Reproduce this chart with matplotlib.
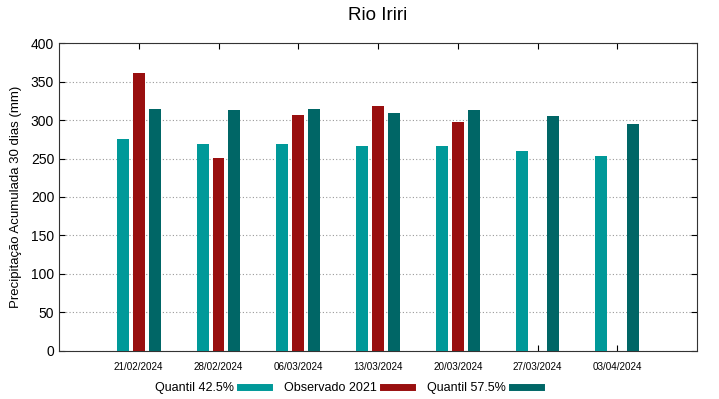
import numpy as np
import matplotlib
matplotlib.use("Agg")
import matplotlib.pyplot as plt
from matplotlib.lines import Line2D

plt.rcParams['font.family'] = ['Liberation Sans', 'DejaVu Sans']

dates = ["21/02/2024", "28/02/2024", "06/03/2024", "13/03/2024",
         "20/03/2024", "27/03/2024", "03/04/2024"]
quantil_425 = [275, 269, 269, 266, 266, 260, 254]
observado = [361, 251, 307, 318, 298, np.nan, np.nan]
quantil_575 = [315, 313, 315, 309, 313, 306, 295]

c_q1 = "#009999"
c_obs = "#990f0f"
c_q2 = "#006666"

fig = plt.figure(figsize=(7.19, 3.99), dpi=100)
ax = fig.add_axes([59/719, 1 - 350.7/399, (697-59)/719, (350.7-43.3)/399])

x = np.arange(len(dates))
w = 0.15
ax.bar(x - 0.2, quantil_425, w, color=c_q1, zorder=3)
ax.bar(x, observado, w, color=c_obs, zorder=3)
ax.bar(x + 0.2, quantil_575, w, color=c_q2, zorder=3)

ax.set_xlim(-1, 7)
ax.set_ylim(0, 400)
ax.set_xticks(x)
ax.set_xticklabels(dates, fontsize=7.1)
ax.set_yticks(range(0, 401, 50))
ax.tick_params(axis='y', labelsize=10, direction='in', right=True, length=4)
ax.tick_params(axis='x', direction='in', top=True, length=4, pad=8)
ax.grid(axis='y', linestyle=(0, (1, 2)), color='#999999', linewidth=0.8, zorder=0)
for s in ax.spines.values():
    s.set_linewidth(0.8)
    s.set_color('#333333')

ax.set_ylabel("Precipitação Acumulada 30 dias (mm)", fontsize=9.5, labelpad=6)
fig.text(378/719, 1 - 16/399, "Rio Iriri", ha='center', va='center', fontsize=13.5)

handles = [Line2D([], [], color=c_q1, lw=5),
           Line2D([], [], color=c_obs, lw=5),
           Line2D([], [], color=c_q2, lw=5)]
labels = ["Quantil 42.5%", "Observado 2021", "Quantil 57.5%"]
fig.legend(handles, labels, loc='center', bbox_to_anchor=(348/719, 1 - 388/399),
           ncol=3, frameon=False, markerfirst=False, fontsize=9,
           handlelength=2.3, columnspacing=1.2, handletextpad=0.5)

fig.savefig("out.png", dpi=100)
